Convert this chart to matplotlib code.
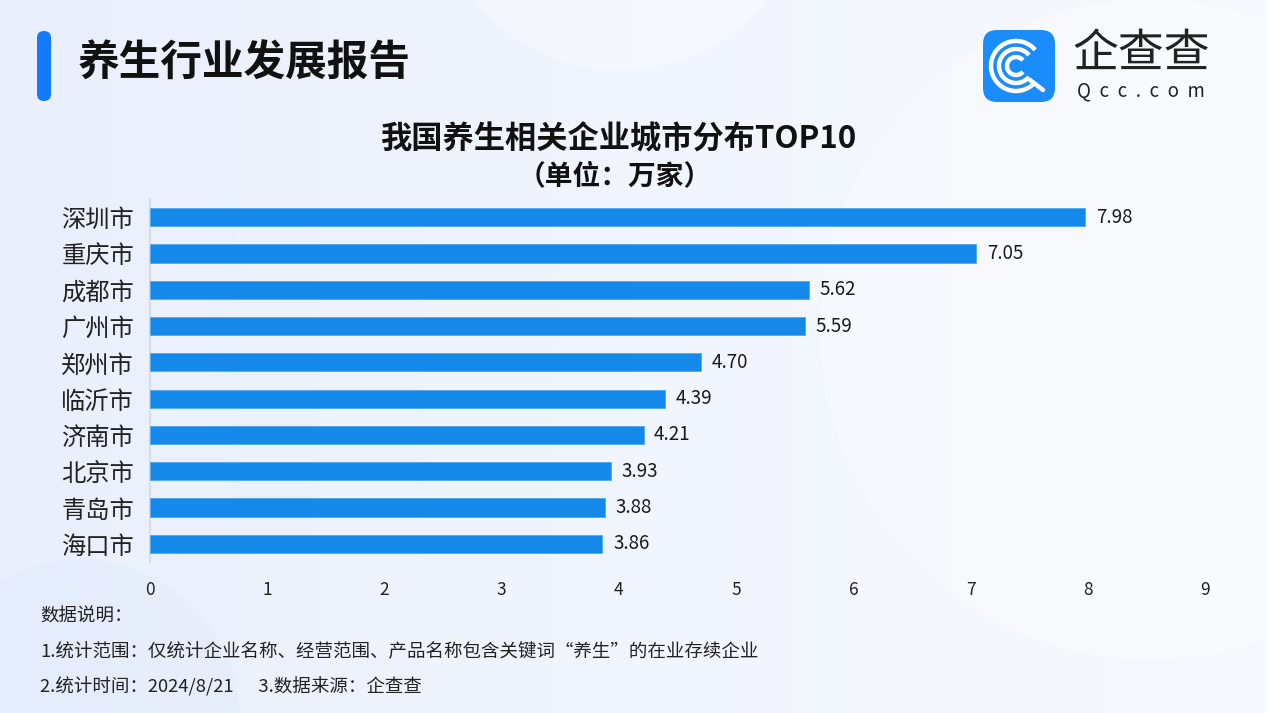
import matplotlib
matplotlib.use("Agg")
import matplotlib.pyplot as plt
import numpy as np
from matplotlib.patches import FancyBboxPatch, Arc, Circle
from matplotlib.colors import LinearSegmentedColormap

plt.rcParams['font.family'] = ['Noto Sans CJK SC', 'DejaVu Sans']

cities = ["深圳市", "重庆市", "成都市", "广州市", "郑州市", "临沂市", "济南市", "北京市", "青岛市", "海口市"]
values = [7.98, 7.05, 5.62, 5.59, 4.70, 4.39, 4.21, 3.93, 3.88, 3.86]
xticks = [0, 1, 2, 3, 4, 5, 6, 7, 8, 9]
header = "养生行业发展报告"
title = "我国养生相关企业城市分布TOP10"
subtitle = "（单位：万家）"
notes = ["数据说明：",
         "1.统计范围：仅统计企业名称、经营范围、产品名称包含关键词“养生”的在业存续企业",
         "2.统计时间：2024/8/21      3.数据来源：企查查"]

W, H = 1267, 713
fig = plt.figure(figsize=(W / 100, H / 100), dpi=100)

# background axes in pixel coordinates
bg = fig.add_axes([0, 0, 1, 1])
bg.set_xlim(0, W)
bg.set_ylim(H, 0)
bg.axis('off')
cmap = LinearSegmentedColormap.from_list('bg', ['#E9EFFC', '#F1F5FD', '#F7F9FE'])
grad = np.linspace(0, 1, 256).reshape(1, -1)
bg.imshow(grad, extent=[0, W, H, 0], cmap=cmap, aspect='auto', zorder=0)
# faint decorative circles
bg.add_patch(Circle((620, -120), 190, color='white', alpha=0.3, lw=0, zorder=1))
bg.add_patch(Circle((1150, 330), 330, color='white', alpha=0.3, lw=0, zorder=1))
bg.add_patch(Circle((80, 720), 160, color='#DDE7FA', alpha=0.25, lw=0, zorder=1))

# header blue bar
bg.add_patch(FancyBboxPatch((37, 31), 14, 70, boxstyle="round,pad=0,rounding_size=7",
                            facecolor='#137BFB', edgecolor='none', zorder=2))
bg.text(78, 64, header, fontsize=30, fontweight='bold', color='#111111',
        va='center', ha='left', zorder=3)

# logo
bg.add_patch(FancyBboxPatch((983, 30), 72, 72, boxstyle="round,pad=0,rounding_size=14",
                            facecolor='#1A8CFB', edgecolor='none', zorder=2))
cx, cy = 1016, 66
for r, lw in [(25, 3.2), (17, 3.2), (9, 3.2)]:
    bg.add_patch(Arc((cx, cy), 2 * r, 2 * r, theta1=40, theta2=320, color='white', lw=lw, zorder=3))
bg.plot([cx + 14, cx + 27], [cy + 14, cy + 24], color='white', lw=3.2, solid_capstyle='round', zorder=3)
bg.text(1141, 54, "企查查", fontsize=33, color='#222222', va='center', ha='center', zorder=3)
bg.text(1141, 91, "Q  c  c  .  c  o  m", fontsize=13.5, color='#222222', va='center', ha='center', zorder=3)

# chart
ax = fig.add_axes([150 / W, 1 - 562 / H, 1055 / W, 363 / H])
ax.patch.set_alpha(0)
y = np.arange(len(cities))
ax.barh(y, values, height=0.5, color='#1489EA', edgecolor='#4FA8F2', linewidth=0.6, zorder=3)
for yi, v in zip(y, values):
    ax.text(v + 0.09, yi, f"{v:.2f}", va='center', ha='left', fontsize=13.5, color='#1a1a1a')
ax.set_yticks(y)
ax.set_yticklabels(cities, fontsize=17.5, color='#222222')
ax.set_ylim(len(cities) - 0.5, -0.5)
ax.set_xlim(0, 9)
ax.set_xticks(xticks)
ax.set_xticklabels([str(t) for t in xticks], fontsize=12.5, color='#222222')
ax.tick_params(axis='both', length=0)
ax.tick_params(axis='x', pad=14)
ax.tick_params(axis='y', pad=11.5)
for s in ['top', 'right', 'bottom']:
    ax.spines[s].set_visible(False)
ax.spines['left'].set_color('#D8DCE4')
ax.spines['left'].set_linewidth(1.5)

fig.text(618 / W, 1 - 140 / H, title, fontsize=22.5, fontweight='bold', color='#111111',
         ha='center', va='center')
fig.text(615 / W, 1 - 176 / H, subtitle, fontsize=20, fontweight='bold', color='#111111',
         ha='center', va='center')

for i, (t, yy) in enumerate(zip(notes, [617, 652, 687])):
    fig.text(40 / W, 1 - yy / H, t, fontsize=13.3, color='#222222', ha='left', va='center')

fig.savefig("out.png", dpi=100)
